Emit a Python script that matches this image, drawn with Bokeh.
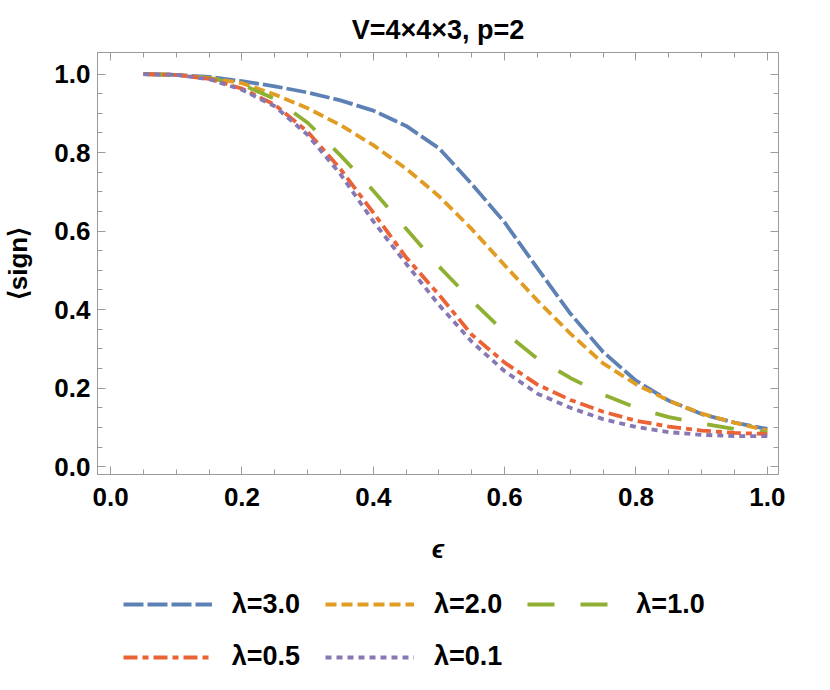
from bokeh.plotting import figure
from bokeh.layouts import column
from bokeh.models import (LinearAxis, FixedTicker, Legend, LegendItem, Range1d,
                          PrintfTickFormatter, CustomJSTickFormatter, ColumnDataSource)
from bokeh.embed import file_html
from bokeh.resources import INLINE

# ---- data ----
eps = [0.05, 0.10, 0.15, 0.20, 0.25, 0.30, 0.35, 0.40, 0.45, 0.50,
       0.55, 0.60, 0.65, 0.70, 0.75, 0.80, 0.85, 0.90, 0.95, 1.00]
lam_3_0 = [1.000, 0.998, 0.993, 0.982, 0.969, 0.953, 0.933, 0.907, 0.868, 0.811,
           0.720, 0.622, 0.505, 0.390, 0.292, 0.219, 0.168, 0.134, 0.112, 0.096]
lam_2_0 = [1.000, 0.998, 0.990, 0.977, 0.948, 0.913, 0.870, 0.819, 0.759, 0.689,
           0.605, 0.513, 0.423, 0.339, 0.263, 0.210, 0.168, 0.135, 0.112, 0.092]
lam_1_0 = [1.000, 0.998, 0.990, 0.973, 0.937, 0.876, 0.793, 0.703, 0.606, 0.510,
           0.423, 0.342, 0.275, 0.226, 0.184, 0.150, 0.126, 0.110, 0.096, 0.087]
lam_0_5 = [1.000, 0.998, 0.988, 0.963, 0.922, 0.853, 0.758, 0.647, 0.533, 0.438,
           0.336, 0.265, 0.209, 0.170, 0.140, 0.117, 0.102, 0.092, 0.086, 0.083]
lam_0_1 = [1.000, 0.998, 0.987, 0.960, 0.918, 0.845, 0.745, 0.625, 0.517, 0.412,
           0.318, 0.243, 0.186, 0.150, 0.121, 0.101, 0.088, 0.081, 0.078, 0.078]

series_labels = ["λ=3.0", "λ=2.0", "λ=1.0", "λ=0.5", "λ=0.1"]
major_ticks = [0.0, 0.2, 0.4, 0.6, 0.8, 1.0]
minor_ticks = [0.05, 0.10, 0.15, 0.25, 0.30, 0.35, 0.45, 0.50, 0.55,
               0.65, 0.70, 0.75, 0.85, 0.90, 0.95]

# ---- styles ----
colors = ["#5E81B5", "#E19C24", "#8FB032", "#EB6235", "#8778B3"]
dashes = ["20 4", "11 5", "27 26", "14 5 6 5", "6 5"]
LW = 3.8
FONT = "Liberation Sans"
FRAME_COL = "#9a9a9a"
W = 822

src = ColumnDataSource(dict(eps=eps, l30=lam_3_0, l20=lam_2_0, l10=lam_1_0,
                            l05=lam_0_5, l01=lam_0_1))
cols = ["l30", "l20", "l10", "l05", "l01"]

p = figure(frame_width=681, frame_height=422,
           x_range=Range1d(-0.02, 1.017), y_range=Range1d(-0.02, 1.055),
           output_backend="svg", toolbar_location=None,
           min_border_left=97, min_border_right=44,
           min_border_top=52, min_border_bottom=110)

p.title.text = "V=4×4×3, p=2"
p.title.text_font = FONT
p.title.text_font_size = "27px"
p.title.text_font_style = "bold"
p.title.align = "center"
p.title.text_color = "black"
p.title.standoff = 15

p.grid.visible = False
p.outline_line_color = FRAME_COL
p.background_fill_color = "white"
p.border_fill_color = "white"

ticker = FixedTicker(ticks=major_ticks, minor_ticks=minor_ticks)

def style_axis(ax, labels=True):
    ax.ticker = ticker
    ax.axis_line_color = FRAME_COL
    ax.major_tick_line_color = FRAME_COL
    ax.minor_tick_line_color = FRAME_COL
    ax.major_tick_in = 8
    ax.major_tick_out = 0
    ax.minor_tick_in = 5
    ax.minor_tick_out = 0
    if labels:
        ax.formatter = PrintfTickFormatter(format="%.1f")
        ax.major_label_text_font = FONT
        ax.major_label_text_font_size = "26px"
        ax.major_label_text_font_style = "bold"
        ax.major_label_text_color = "black"
    else:
        ax.formatter = CustomJSTickFormatter(code="return ''")
        ax.major_label_text_font_size = "1px"
        ax.major_label_standoff = 0

style_axis(p.xaxis[0])
style_axis(p.yaxis[0])
p.xaxis[0].major_label_standoff = 13
p.yaxis[0].major_label_standoff = 7

p.xaxis[0].axis_label = "ϵ"
p.xaxis[0].axis_label_text_font = FONT
p.xaxis[0].axis_label_text_font_size = "26px"
p.xaxis[0].axis_label_text_font_style = "bold italic"
p.xaxis[0].axis_label_text_color = "black"
p.xaxis[0].axis_label_standoff = 25

p.yaxis[0].axis_label = "⟨sign⟩"
p.yaxis[0].axis_label_text_font = FONT
p.yaxis[0].axis_label_text_font_size = "26px"
p.yaxis[0].axis_label_text_font_style = "bold"
p.yaxis[0].axis_label_text_color = "black"
p.yaxis[0].axis_label_standoff = 18

top_ax = LinearAxis()
right_ax = LinearAxis()
style_axis(top_ax, labels=False)
style_axis(right_ax, labels=False)
p.add_layout(top_ax, "above")
p.add_layout(right_ax, "right")

for c, col, dash in zip(cols, colors, dashes):
    p.line(x="eps", y=c, source=src, line_color=col, line_width=LW,
           line_dash=dash)

# ---- legend panel (own figure below the chart) ----
LH = 98
pl = figure(frame_width=W, frame_height=LH, x_range=Range1d(5, 6),
            y_range=Range1d(5, 6), x_axis_type=None, y_axis_type=None,
            output_backend="svg", toolbar_location=None,
            min_border_left=0, min_border_right=0, min_border_top=0,
            min_border_bottom=0)
pl.grid.visible = False
pl.outline_line_color = None
pl.background_fill_color = "white"
pl.border_fill_color = "white"

items = []
for c, col, dash, lab in zip(cols, colors, dashes, series_labels):
    r = pl.line(x="eps", y=c, source=src, line_color=col, line_width=LW,
                line_dash=dash)
    items.append(LegendItem(label=lab, renderers=[r]))

def make_legend(its, loc):
    return Legend(items=its, orientation="horizontal", location=loc,
                  glyph_width=89, glyph_height=34, label_height=34,
                  label_standoff=20, spacing=25, padding=0, margin=0,
                  label_text_font=FONT, label_text_font_size="27px",
                  label_text_font_style="bold", label_text_color="black",
                  border_line_color=None, background_fill_alpha=0)

pl.add_layout(make_legend(items[:3], (122.7, 61)), "center")
pl.add_layout(make_legend(items[3:], (122.7, 8.3)), "center")

layout = column(p, pl, spacing=0)
open("out.html", "w").write(file_html(layout, INLINE))
